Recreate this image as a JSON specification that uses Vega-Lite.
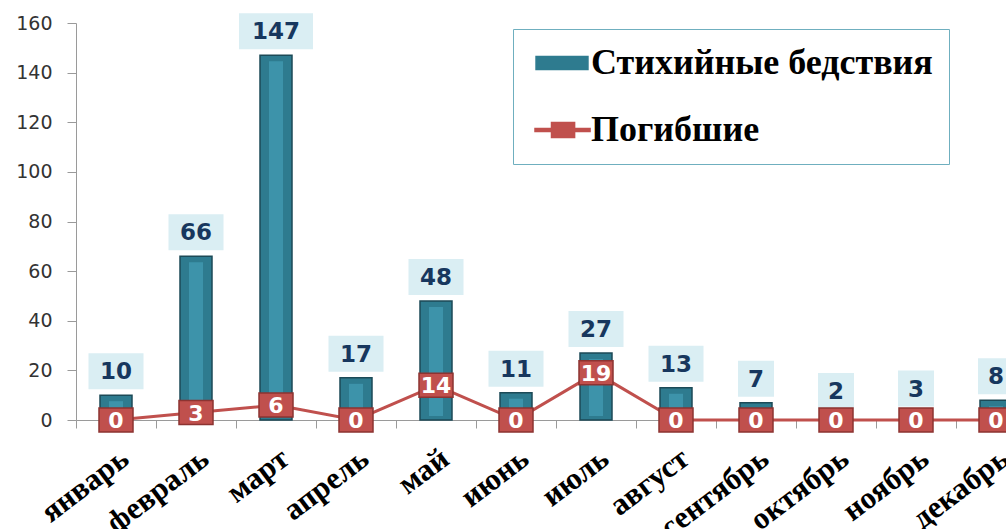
{
  "$schema": "https://vega.github.io/schema/vega-lite/v6.json",
  "width": 930,
  "height": 397,
  "autosize": {"type": "none"},
  "padding": {"left": 76, "top": 23, "right": 0, "bottom": 109},
  "background": "white",
  "config": {
    "view": {"stroke": null},
    "axisY": {
      "grid": false, "domainColor": "#9a9a9a", "tickColor": "#9a9a9a", "tickSize": 9,
      "labelFont": "DejaVu Sans", "labelFontSize": 19, "labelColor": "#333333", "labelPadding": 15,
      "values": [0, 20, 40, 60, 80, 100, 120, 140, 160], "title": null
    },
    "legend": {
      "orient": "none", "legendX": 437, "legendY": 6, "title": null,
      "padding": 16, "strokeColor": "#6FAFBF", "fillColor": "white",
      "labelFont": "Liberation Serif", "labelFontWeight": "bold", "labelFontSize": 36, "labelColor": "#000000",
      "labelOffset": 26, "labelLimit": 600, "rowPadding": 31, "symbolSize": 900, "symbolOpacity": 1
    }
  },
  "data": {"values": [
    {"month": "январь", "disasters": 10, "deaths": 0},
    {"month": "февраль", "disasters": 66, "deaths": 3},
    {"month": "март", "disasters": 147, "deaths": 6},
    {"month": "апрель", "disasters": 17, "deaths": 0},
    {"month": "май", "disasters": 48, "deaths": 14},
    {"month": "июнь", "disasters": 11, "deaths": 0},
    {"month": "июль", "disasters": 27, "deaths": 19},
    {"month": "август", "disasters": 13, "deaths": 0},
    {"month": "сентябрь", "disasters": 7, "deaths": 0},
    {"month": "октябрь", "disasters": 2, "deaths": 0},
    {"month": "ноябрь", "disasters": 3, "deaths": 0},
    {"month": "декабрь", "disasters": 8, "deaths": 0}
  ]},
  "encoding": {
    "x": {
      "field": "month", "type": "nominal", "sort": null,
      "scale": {"range": [0, 960], "paddingInner": 0, "paddingOuter": 0},
      "axis": {
        "title": null, "tickBand": "extent", "domainColor": "#9a9a9a", "tickColor": "#9a9a9a", "tickSize": 8,
        "labelAngle": -37, "labelAlign": "right", "labelBaseline": "top", "labelPadding": 15, "labelDx": -5,
        "labelFont": "Liberation Serif", "labelFontWeight": "bold", "labelFontSize": 31, "labelColor": "#000000",
        "labelOverlap": false, "labelLimit": 400
      }
    }
  },
  "layer": [
    {
      "mark": {"type": "bar", "width": 32, "stroke": "#1C4A57", "strokeWidth": 1.5},
      "encoding": {
        "y": {"field": "disasters", "type": "quantitative", "title": null, "scale": {"domain": [0, 160], "nice": false}},
        "color": {
          "datum": "Стихийные бедствия",
          "scale": {"domain": ["Стихийные бедствия", "Погибшие"], "range": ["#2E7B8F", "#C0504D"]}
        }
      }
    },
    {
      "transform": [{"filter": "datum.disasters > 5"}],
      "mark": {"type": "bar", "width": 14, "color": "#3D93AA", "yOffset": 6, "y2Offset": -4},
      "encoding": {
        "y": {"field": "disasters", "type": "quantitative", "title": null},
        "y2": {"datum": 0}
      }
    },
    {
      "mark": {"type": "bar", "color": "#DAEEF3", "yOffset": -6, "y2Offset": -42,
               "width": {"expr": "length(toString(datum.disasters)) * 19 + 17"}},
      "encoding": {
        "y": {"field": "disasters", "type": "quantitative", "title": null},
        "y2": {"field": "disasters"}
      }
    },
    {
      "mark": {"type": "text", "font": "DejaVu Sans", "fontWeight": "bold", "fontSize": 23, "color": "#17375E",
               "yOffset": -23, "baseline": "middle"},
      "encoding": {
        "y": {"field": "disasters", "type": "quantitative", "title": null},
        "text": {"field": "disasters"}
      }
    },
    {
      "mark": {"type": "line", "strokeWidth": 3},
      "encoding": {
        "y": {"field": "deaths", "type": "quantitative", "title": null},
        "color": {"datum": "Погибшие"}
      }
    },
    {
      "mark": {"type": "bar", "width": 34, "color": "#C0504D", "stroke": "#8C3331", "strokeWidth": 1.5,
               "yOffset": -12, "y2Offset": 12},
      "encoding": {
        "y": {"field": "deaths", "type": "quantitative", "title": null},
        "y2": {"field": "deaths"}
      }
    },
    {
      "mark": {"type": "text", "font": "DejaVu Sans", "fontWeight": "bold", "fontSize": 22, "color": "#FFFFFF",
               "baseline": "middle", "yOffset": 1},
      "encoding": {
        "y": {"field": "deaths", "type": "quantitative", "title": null},
        "text": {"field": "deaths"}
      }
    },
    {
      "transform": [{"filter": "datum.deaths < 0"}],
      "mark": {"type": "point", "filled": true, "opacity": 1},
      "encoding": {
        "y": {"field": "deaths", "type": "quantitative", "title": null},
        "color": {"datum": "Погибшие"},
        "shape": {
          "datum": "Погибшие",
          "scale": {
            "domain": ["Стихийные бедствия", "Погибшие"],
            "range": ["M-0.73,-0.43H2.73V0.43H-0.73Z", "M-0.8,-0.1H2.87V0.1H-0.8ZM0.3,-0.5H1.84V0.5H0.3Z"]
          }
        }
      }
    }
  ]
}
